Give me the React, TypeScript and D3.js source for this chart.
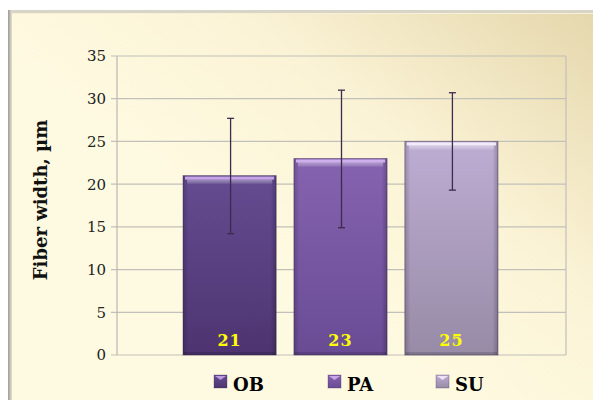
import React from "react";
import * as d3 from "d3";

const categories = ["OB", "PA", "SU"];
const means = [21, 23, 25];
const errUpper = [27.7, 31.0, 30.7];
const errLower = [14.2, 14.9, 19.3];
const yTicks = [0, 5, 10, 15, 20, 25, 30, 35];
const yTitle = "Fiber width, µm";

const barTop = ["#654c91", "#8663b0", "#beadd3"];
const barBottom = ["#4d3470", "#694b94", "#978ba6"];
const barHighlight = ["#c9a9ec", "#d2b4f2", "#f4eefb"];

const W = 593;
const H = 400;
const plot = { left: 117, right: 566, top: 56, bottom: 355 };

export default function App() {
  const y = d3.scaleLinear().domain([0, 35]).range([plot.bottom, plot.top]);
  const x = d3.scaleBand<string>().domain(categories).range([183, 498]).paddingInner(0.16).paddingOuter(0);
  const bw = x.bandwidth();
  const legendX = [214, 328, 436];

  return (
    <svg
      width={W}
      height={H}
      style={{ position: "absolute", left: 0, top: 0, display: "block" }}
      xmlns="http://www.w3.org/2000/svg"
    >
      <defs>
        <linearGradient id="bg" x1="35%" y1="55%" x2="100%" y2="0%">
          <stop offset="0" stopColor="#fefae1" />
          <stop offset="0.45" stopColor="#fbf3d6" />
          <stop offset="1" stopColor="#e5d7ac" />
        </linearGradient>
        <linearGradient id="leftEdge" x1="0" y1="0" x2="1" y2="0">
          <stop offset="0" stopColor="#9c9a94" />
          <stop offset="1" stopColor="#e4e1d2" />
        </linearGradient>
        <linearGradient id="hl" x1="0" y1="0" x2="0" y2="1">
          <stop offset="0" stopColor="#fff" stopOpacity="0.75" />
          <stop offset="0.5" stopColor="#fff" stopOpacity="0.45" />
          <stop offset="1" stopColor="#fff" stopOpacity="0" />
        </linearGradient>
        {categories.map((c, i) => (
          <linearGradient key={c} id={`bar${i}`} x1="0" y1="0" x2="0" y2="1">
            <stop offset="0" stopColor={barTop[i]} />
            <stop offset="1" stopColor={barBottom[i]} />
          </linearGradient>
        ))}
        {categories.map((c, i) => (
          <linearGradient key={c} id={`side${i}`} x1="0" y1="0" x2="1" y2="0">
            <stop offset="0" stopColor="#000" stopOpacity="0.18" />
            <stop offset="0.06" stopColor="#000" stopOpacity="0" />
            <stop offset="0.94" stopColor="#000" stopOpacity="0" />
            <stop offset="1" stopColor="#000" stopOpacity="0.22" />
          </linearGradient>
        ))}
      </defs>

      <rect x={0} y={0} width={W} height={H} fill="#ffffff" />
      <rect x={8} y={10} width={W - 8} height={H - 10} fill="url(#bg)" />
      <rect x={8} y={10} width={W - 8} height={3} fill="#d8d4c6" />
      <rect x={8} y={13} width={W - 8} height={1} fill="#f6f0d8" />
      <rect x={8} y={10} width={4} height={H - 10} fill="url(#leftEdge)" />

      {/* gridlines */}
      {yTicks.map((t) => (
        <line key={t} x1={plot.left - 6} x2={plot.right} y1={y(t)} y2={y(t)} stroke="#c2c0ba" strokeWidth={1.2} />
      ))}
      <line x1={plot.left} x2={plot.left} y1={plot.top} y2={plot.bottom} stroke="#b9b7b2" strokeWidth={1.2} />
      <line x1={plot.right} x2={plot.right} y1={plot.top} y2={plot.bottom} stroke="#c2c0ba" strokeWidth={1.2} />

      {/* tick labels */}
      {yTicks.map((t) => (
        <text
          key={t}
          x={106}
          y={y(t)}
          dy="0.36em"
          textAnchor="end"
          fontFamily="DejaVu Serif"
          fontSize={15}
          fill="#222"
        >
          {t}
        </text>
      ))}

      <text
        transform={`translate(47,${200}) rotate(-90)`}
        textAnchor="middle"
        fontFamily="DejaVu Serif"
        fontWeight="bold"
        fontSize={18}
        fill="#111"
      >
        {yTitle}
      </text>

      {/* bars */}
      {categories.map((c, i) => {
        const x0 = x(c) as number;
        const yt = y(means[i]);
        const h = plot.bottom - yt;
        return (
          <g key={c}>
            <rect x={x0} y={yt} width={bw} height={h} fill={`url(#bar${i})`} stroke="#3c2a55" strokeOpacity={0.45} strokeWidth={1} />
            <rect x={x0} y={yt} width={bw} height={h} fill={`url(#side${i})`} />
            <rect x={x0 + 2} y={yt + 1} width={bw - 4} height={3} fill={barHighlight[i]} opacity={0.95} />
            <rect x={x0 + 4} y={yt + 4} width={bw - 8} height={5} fill="url(#hl)" opacity={0.5} />
            <rect x={x0 + 1} y={plot.bottom - 3} width={bw - 2} height={3} fill="#000" opacity={0.15} />
          </g>
        );
      })}

      {/* error bars */}
      {categories.map((c, i) => {
        const cx = (x(c) as number) + bw / 2 + 1;
        return (
          <g key={c} stroke="#3b2b4c" strokeWidth={1.3}>
            <line x1={cx} x2={cx} y1={y(errUpper[i])} y2={y(errLower[i])} />
            <line x1={cx - 3.5} x2={cx + 3.5} y1={y(errUpper[i])} y2={y(errUpper[i])} />
            <line x1={cx - 3.5} x2={cx + 3.5} y1={y(errLower[i])} y2={y(errLower[i])} />
          </g>
        );
      })}

      {/* value labels */}
      {categories.map((c, i) => (
        <text
          key={c}
          x={(x(c) as number) + bw / 2}
          y={346}
          textAnchor="middle"
          fontFamily="DejaVu Serif"
          fontWeight="bold"
          fontSize={16}
          letterSpacing={1}
          fill="#ffff00"
        >
          {means[i]}
        </text>
      ))}

      {/* legend */}
      {categories.map((c, i) => (
        <g key={c}>
          <rect x={legendX[i]} y={375} width={13} height={13} fill={`url(#bar${i})`} stroke="#3c2a55" strokeOpacity={0.3} />
          <path d={`M${legendX[i] + 1},${376} L${legendX[i] + 6.5},${380} L${legendX[i] + 12},${376} Z`} fill={barHighlight[i]} opacity={0.85} />
          <text
            x={legendX[i] + 19}
            y={391}
            fontFamily="DejaVu Serif"
            fontWeight="bold"
            fontSize={18}
            fill="#000"
          >
            {c}
          </text>
        </g>
      ))}
    </svg>
  );
}
